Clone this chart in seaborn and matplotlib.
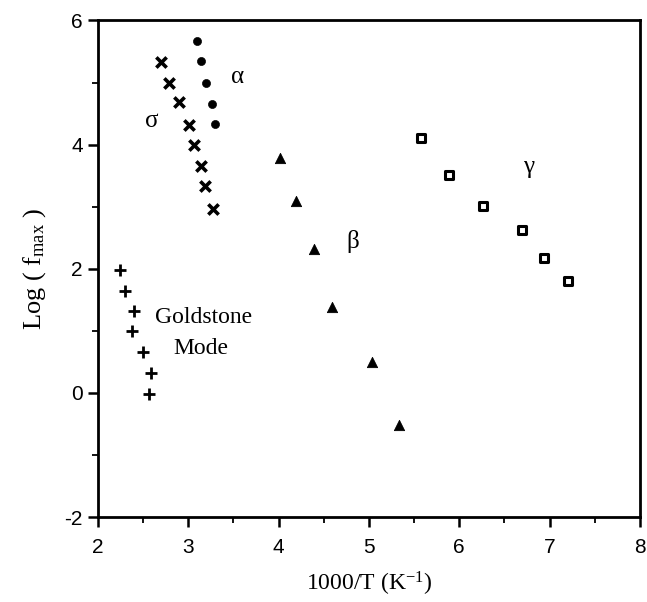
import matplotlib
matplotlib.use("Agg")
import matplotlib.pyplot as plt
import seaborn as sns
import pandas as pd
from matplotlib.ticker import MultipleLocator
from matplotlib import font_manager

sns.set_theme(style="white")
names = {f.name for f in font_manager.fontManager.ttflist}
tick_font = 'Liberation Sans Narrow' if 'Liberation Sans Narrow' in names else 'Liberation Sans'
plt.rcParams['font.family'] = [tick_font, 'DejaVu Sans']
plt.rcParams['axes.unicode_minus'] = False
plt.rcParams['mathtext.fontset'] = 'custom'
plt.rcParams['mathtext.rm'] = 'Liberation Serif'
plt.rcParams['mathtext.it'] = 'Liberation Serif'
plt.rcParams['text.color'] = 'black'

# sigma (crosses)
sigma_x = [2.70, 2.79, 2.90, 3.01, 3.06, 3.14, 3.18, 3.27]
sigma_y = [5.33, 5.00, 4.68, 4.32, 3.99, 3.66, 3.34, 2.97]
# alpha (filled circles)
alpha_x = [3.10, 3.14, 3.20, 3.26, 3.29]
alpha_y = [5.67, 5.34, 5.00, 4.66, 4.33]
# Goldstone mode (plus)
gold_x = [2.24, 2.30, 2.40, 2.38, 2.50, 2.59, 2.57]
gold_y = [1.98, 1.64, 1.32, 0.99, 0.66, 0.32, -0.02]
# beta (filled triangles)
beta_x = [4.02, 4.19, 4.39, 4.59, 5.03, 5.33]
beta_y = [3.79, 3.09, 2.32, 1.39, 0.50, -0.52]
# gamma (open squares)
gamma_x = [5.58, 5.89, 6.26, 6.70, 6.94, 7.20]
gamma_y = [4.11, 3.51, 3.01, 2.62, 2.18, 1.81]

x_ticks = [2, 3, 4, 5, 6, 7, 8]
y_ticks = [-2, 0, 2, 4, 6]

fig = plt.figure(figsize=(6.47, 6.02), dpi=100)
ax = fig.add_axes([0.1515, 0.141, 0.8375, 0.825])

def df(x, y):
    return pd.DataFrame({"x": x, "y": y})

sns.scatterplot(data=df(sigma_x, sigma_y), x="x", y="y", ax=ax, marker="x",
                s=55, color="black", linewidth=2.6)
sns.scatterplot(data=df(alpha_x, alpha_y), x="x", y="y", ax=ax, marker="o",
                s=34, color="black", edgecolor="black")
sns.scatterplot(data=df(gold_x, gold_y), x="x", y="y", ax=ax, marker="+",
                s=70, color="black", linewidth=2.0)
sns.scatterplot(data=df(beta_x, beta_y), x="x", y="y", ax=ax, marker="^",
                s=55, color="black", edgecolor="black")
sns.scatterplot(data=df(gamma_x, gamma_y), x="x", y="y", ax=ax, marker="s",
                s=36, facecolor="white", edgecolor="black", linewidth=2.2)

ax.set_xlim(2, 8)
ax.set_ylim(-2, 6)
ax.set_xticks(x_ticks)
ax.set_yticks(y_ticks)
ax.xaxis.set_minor_locator(MultipleLocator(0.5))
ax.yaxis.set_minor_locator(MultipleLocator(1))
ax.tick_params(axis="both", which="major", direction="out", length=7, width=1.8,
               labelsize=15, colors="black", bottom=True, left=True)
ax.tick_params(axis="x", which="major", pad=8)
ax.tick_params(axis="y", which="major", pad=4)
ax.tick_params(axis="both", which="minor", direction="out", length=4, width=1.3,
               bottom=True, left=True, colors="black")
for sp in ax.spines.values():
    sp.set_color("black")
    sp.set_linewidth(2.0)

serif = ['Liberation Serif', 'DejaVu Serif']
ax.set_xlabel("1000/T (K$^{-1}$)", family=serif, fontsize=17, labelpad=9, color="black")
ax.set_ylabel("Log ( f$_{\\mathrm{max}}$ )", family=serif, fontsize=19, labelpad=12, color="black")

ax.text(3.55, 5.09, "α", family=serif, fontsize=18, ha="center", va="center", color="black")
ax.text(2.59, 4.38, "σ", family=serif, fontsize=18, ha="center", va="center", color="black")
ax.text(4.82, 2.44, "β", family=serif, fontsize=18, ha="center", va="center", color="black")
ax.text(6.77, 3.64, "γ", family=serif, fontsize=18, ha="center", va="center", color="black")
ax.text(3.17, 1.21, "Goldstone", family=serif, fontsize=17, ha="center", va="center", color="black")
ax.text(3.14, 0.72, "Mode", family=serif, fontsize=17, ha="center", va="center", color="black")

fig.savefig("out.png", dpi=100)
